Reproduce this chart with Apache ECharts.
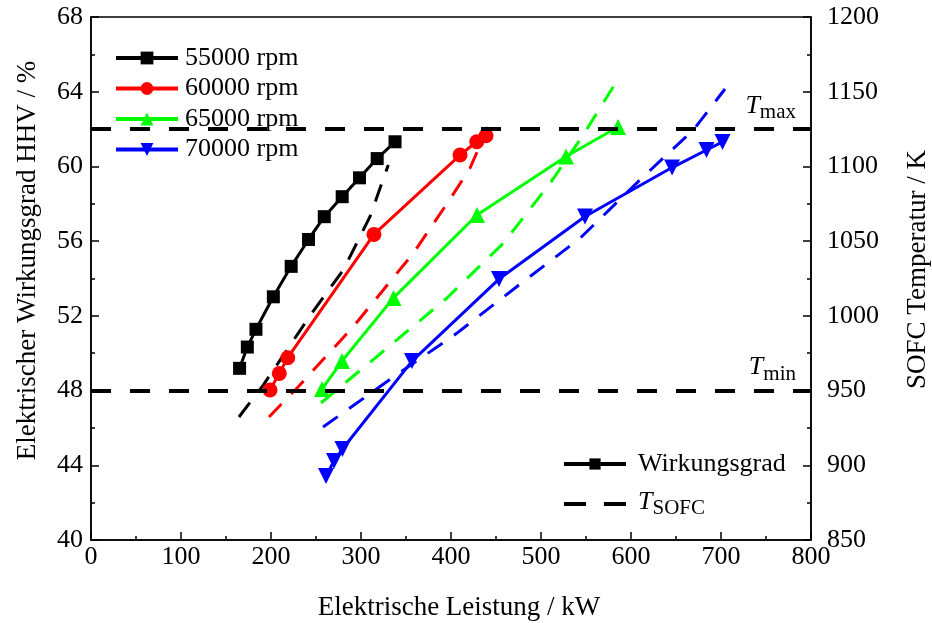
<!DOCTYPE html>
<html>
<head>
<meta charset="utf-8">
<script src="https://cdn.jsdelivr.net/npm/echarts@6/dist/echarts.min.js"></script>
<style>html,body{margin:0;padding:0;background:#fff}#c{width:932px;height:623px}</style>
</head>
<body>
<div id="c"></div>
<script>
// ---- data ----
const seriesNames = ['55000 rpm', '60000 rpm', '65000 rpm', '70000 rpm'];
// electrical power (kW) and efficiency HHV (%) – solid lines with markers
const p55 = [165.1, 173.7, 183.3, 202.6, 222.4, 241.7, 259.2, 279.1, 298.3, 318.0, 337.8];
const eta55 = [49.19, 50.33, 51.28, 53.02, 54.65, 56.09, 57.31, 58.38, 59.39, 60.42, 61.32];
const p60 = [198.9, 209.2, 218.6, 314.4, 410.0, 428.6, 438.9];
const eta60 = [48.03, 48.92, 49.76, 56.36, 60.61, 61.32, 61.64];
const p65 = [256.7, 278.9, 336.1, 428.9, 527.8, 585.6];
const eta65 = [48.08, 49.58, 52.96, 57.40, 60.53, 62.11];
const p70 = [261.1, 270.0, 279.4, 356.7, 453.3, 548.9, 645.6, 683.9, 701.7];
const eta70 = [43.43, 44.23, 44.87, 49.58, 53.97, 57.32, 59.94, 60.88, 61.31];
// SOFC temperature (K) – dashed lines
const tp55 = [164.4, 191.4, 245.2, 280.3, 310.0, 330.3];
const T55 = [932.3, 953.7, 1001.7, 1030.7, 1066.4, 1101.0];
const tp60 = [197.8, 230.3, 291.4, 358.1, 397.0, 421.1, 441.1];
const T60 = [932.3, 952.6, 992.8, 1041.9, 1076.4, 1098.8, 1126.4];
const tp65 = [255.6, 328.6, 395.2, 458.1, 510.0, 547.0, 585.6];
const T65 = [941.7, 978.3, 1011.8, 1048.6, 1088.7, 1121.1, 1158.5];
const tp70 = [257.8, 334.1, 406.3, 473.0, 543.3, 610.0, 669.2, 704.4];
const T70 = [925.6, 958.2, 988.3, 1019.5, 1051.9, 1091.0, 1124.4, 1151.8];
// temperature limits (K)
const Tmin = 950;
const Tmax = 1125;
// axes
const xMin = 0, xMax = 800, xStep = 100;
const yMin = 40, yMax = 68, yStep = 4;
const y2Min = 850, y2Max = 1200, y2Step = 50;
const xTitle = 'Elektrische Leistung / kW';
const yTitle = 'Elektrischer Wirkungsgrad HHV / %';
const y2Title = 'SOFC Temperatur / K';

// ---- styling ----
const FONT = 'Liberation Serif';
const colors = ['#000000', '#ff0000', '#00ff00', '#0000ff'];
const symbols = ['rect', 'circle', 'triangle', 'triangle'];
const symRot = [0, 0, 0, 180];
const symSize = [13, 15, 16, 16];
const effP = [p55, p60, p65, p70];
const effV = [eta55, eta60, eta65, eta70];
const tP = [tp55, tp60, tp65, tp70];
const tV = [T55, T60, T65, T70];
const zip = (a, b) => a.map((v, i) => [v, b[i]]);

const series = [];
for (let k = 0; k < 4; k++) {
  series.push({
    name: seriesNames[k] + ' T', type: 'line', yAxisIndex: 1, z: 2,
    data: zip(tP[k], tV[k]), symbol: 'none', smooth: false,
    lineStyle: { color: colors[k], width: 3, type: [18, 14] }
  });
}
for (let k = 0; k < 4; k++) {
  series.push({
    name: seriesNames[k], type: 'line', yAxisIndex: 0, z: 3,
    data: zip(effP[k], effV[k]), symbol: symbols[k], symbolRotate: symRot[k],
    symbolSize: symSize[k], showSymbol: true,
    itemStyle: { color: colors[k] },
    lineStyle: { color: colors[k], width: 3 }
  });
}
const subRich = {
  i: { fontFamily: FONT, fontSize: 26, fontStyle: 'italic', color: '#000', verticalAlign: 'top', lineHeight: 30 },
  s: { fontFamily: FONT, fontSize: 21, color: '#000', verticalAlign: 'bottom', lineHeight: 30, padding: [12, 0, 0, 0] }
};
// limit lines
series.push({
  name: 'limits', type: 'line', yAxisIndex: 1, data: [], silent: true,
  markLine: {
    symbol: 'none', silent: true, animation: false,
    lineStyle: { color: '#000', width: 4, type: [20, 19] },
    label: {
      show: true, position: 'insideEndTop', distance: [15, 6],
      formatter: p => p.value === Tmax ? '{i|T}{s|max}' : '{i|T}{s|min}',
      rich: subRich
    },
    data: [{ yAxis: Tmin }, { yAxis: Tmax }]
  }
});
// legend-only series
series.push({
  name: 'Wirkungsgrad', type: 'line', data: [], symbol: 'rect',
  itemStyle: { color: '#000' }, lineStyle: { color: '#000', width: 3 }
});
series.push({
  name: 'T_SOFC', type: 'line', data: [], symbol: 'none',
  itemStyle: { color: '#000' }, lineStyle: { color: '#000', width: 3, type: [21, 17] }
});

const axisCommon = {
  axisLine: { show: true, onZero: false, lineStyle: { color: '#000', width: 1.5 } },
  axisTick: { show: true, inside: true, length: 8, lineStyle: { color: '#000', width: 1.5 } },
  minorTick: { show: true, splitNumber: 2, length: 4, lineStyle: { color: '#000', width: 1.5 } },
  splitLine: { show: false },
  nameLocation: 'middle'
};
const labelStyle = { fontFamily: FONT, fontSize: 26, color: '#000', formatter: v => String(v) };

const option = {
  animation: false,
  backgroundColor: '#fff',
  textStyle: { fontFamily: FONT },
  grid: { left: 91, right: 121, top: 17, bottom: 83, show: true, borderColor: '#000', borderWidth: 1.5, containLabel: false, outerBoundsMode: 'none' },
  xAxis: Object.assign({}, axisCommon, {
    type: 'value', min: xMin, max: xMax, interval: xStep,
    name: xTitle, nameGap: 54,
    nameTextStyle: { fontFamily: FONT, fontSize: 27, color: '#000', padding: [0, 0, 0, 16] },
    axisLabel: Object.assign({}, labelStyle, { margin: 4 })
  }),
  yAxis: [
    Object.assign({}, axisCommon, {
      type: 'value', min: yMin, max: yMax, interval: yStep, position: 'left',
      name: yTitle, nameGap: 50,
      nameTextStyle: { fontFamily: FONT, fontSize: 27, color: '#000', padding: [0, 0, 0, 36] },
      axisLabel: Object.assign({}, labelStyle, { margin: 8 })
    }),
    Object.assign({}, axisCommon, {
      type: 'value', min: y2Min, max: y2Max, interval: y2Step, position: 'right',
      name: y2Title, nameGap: 93,
      nameTextStyle: { fontFamily: FONT, fontSize: 27, color: '#000', padding: [0, 0, 0, 18] },
      axisLabel: Object.assign({}, labelStyle, { margin: 16 })
    })
  ],
  legend: [
    {
      orient: 'vertical', left: 114, top: 45, padding: 0,
      itemWidth: 62, itemHeight: 16, itemGap: 4.5,
      lineStyle: { width: 4 },
      data: seriesNames,
      textStyle: { fontFamily: FONT, fontSize: 26, color: '#000', padding: [0, 0, 0, 2] },
      selectedMode: false
    },
    {
      orient: 'vertical', left: 562, top: 451, padding: 0,
      itemWidth: 62, itemHeight: 14, itemGap: 9,
      lineStyle: { width: 4 },
      data: [
        { name: 'Wirkungsgrad' },
        { name: 'T_SOFC', icon: 'path://M0,0h21v4h-21z M38,0h21v4h-21z' }
      ],
      formatter: n => n === 'T_SOFC' ? '{i|T}{s|SOFC}' : n,
      textStyle: {
        fontFamily: FONT, fontSize: 26, color: '#000', padding: [0, 0, 0, 7],
        rich: subRich
      },
      selectedMode: false
    }
  ],
  series: series
};
const chart = echarts.init(document.getElementById('c'), null, { renderer: 'canvas' });
chart.setOption(option);
</script>
</body>
</html>
